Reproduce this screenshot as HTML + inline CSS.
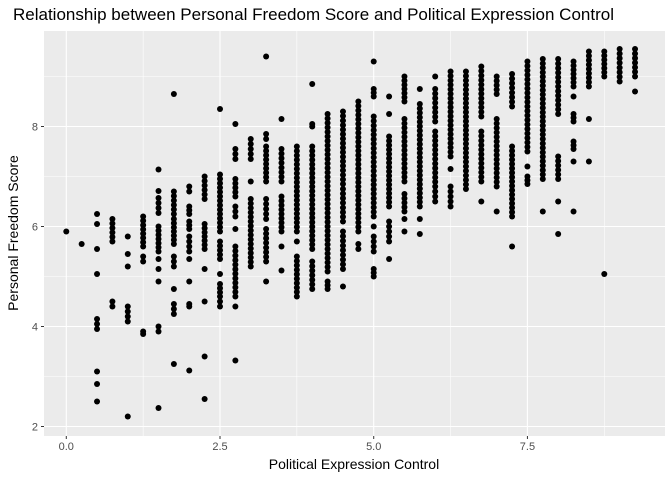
<!DOCTYPE html>
<html><head><meta charset="utf-8"><style>
body{margin:0;background:#fff;font-family:"Liberation Sans",sans-serif}
</style></head><body>
<svg id="chart" width="672" height="480" xmlns="http://www.w3.org/2000/svg">
<text x="13" y="20" font-size="17" fill="#000">Relationship between Personal Freedom Score and Political Expression Control</text>
<rect x="44" y="31" width="621" height="405" fill="#ebebeb"/>
<g id="grid"></g><g id="pts"></g><g id="axes"></g>
<text x="354" y="469" font-size="14" text-anchor="middle">Political Expression Control</text>
<text transform="translate(18,233) rotate(-90)" font-size="14" text-anchor="middle">Personal Freedom Score</text>
</svg>
<script>
const xTicks=[0,2.5,5,7.5];
const xTickLabels=["0.0","2.5","5.0","7.5"];
const yTicks=[2,4,6,8];
const yTickLabels=["2","4","6","8"];
const xVals=[0,0.25,0.5,0.75,1,1.25,1.5,1.75,2,2.25,2.5,2.75,3,3.25,3.5,3.75,4,4.25,4.5,4.75,5,5.25,5.5,5.75,6,6.25,6.5,6.75,7,7.25,7.5,7.75,8,8.25,8.5,8.75,9,9.25];
// each column: [high, low] runs of points (single points have high==low)
const yRuns=[
[[5.9,5.9]],
[[5.65,5.65]],
[[6.25,6.25],[6.05,6.05],[5.55,5.55],[5.05,5.05],[4.15,3.95],[3.1,3.1],[2.85,2.85],[2.5,2.5]],
[[6.15,5.7],[4.5,4.4]],
[[5.8,5.8],[5.45,5.45],[5.2,5.2],[4.4,4.1],[2.2,2.2]],
[[6.2,5.6],[5.4,5.3],[3.9,3.85]],
[[7.14,7.14],[6.71,6.71],[6.57,6.27],[6.0,5.5],[5.35,5.35],[5.15,5.15],[4.9,4.9],[4.0,3.9],[2.37,2.37]],
[[8.65,8.65],[6.7,6.25],[6.15,5.65],[5.4,5.2],[4.75,4.75],[4.45,4.25],[3.25,3.25]],
[[6.8,6.7],[6.4,6.25],[6.1,5.95],[5.8,5.5],[5.35,5.35],[4.9,4.9],[4.45,4.4],[3.12,3.12]],
[[7.0,6.55],[6.05,5.55],[5.15,5.15],[4.5,4.5],[3.4,3.4],[2.55,2.55]],
[[8.35,8.35],[7.04,5.9],[5.7,5.35],[5.05,5.05],[4.85,4.6],[4.5,4.4]],
[[8.05,8.05],[7.55,7.35],[6.95,6.6],[6.4,6.2],[5.95,5.95],[5.6,4.6],[4.4,4.4],[3.32,3.32]],
[[7.75,7.35],[6.9,6.9],[6.55,5.2]],
[[9.4,9.4],[7.85,7.75],[7.6,6.9],[6.55,6.15],[5.95,5.3],[4.9,4.9]],
[[8.15,8.15],[7.55,6.9],[6.6,5.9],[5.6,5.6],[5.12,5.12]],
[[7.6,5.9],[5.7,5.7],[5.4,4.6]],
[[8.85,8.85],[8.05,8.0],[7.6,5.55],[5.3,4.75]],
[[8.25,5.1],[4.9,4.75]],
[[8.3,6.85],[6.75,6.1],[5.9,5.15],[4.8,4.8]],
[[8.5,5.9],[5.65,5.55]],
[[9.3,9.3],[8.75,8.6],[8.2,6.2],[6.0,6.0],[5.8,5.5],[5.15,5.0]],
[[8.6,8.6],[8.25,8.25],[7.8,6.4],[6.1,5.7],[5.35,5.35]],
[[9.0,8.5],[8.15,6.9],[6.65,6.3],[6.15,6.15],[5.9,5.9]],
[[8.75,8.75],[8.45,6.4],[6.15,6.15],[5.85,5.85]],
[[9.0,9.0],[8.75,8.1],[7.9,6.8],[6.7,6.5]],
[[9.1,7.4],[7.15,7.15],[6.8,6.4]],
[[9.1,6.75]],
[[9.2,8.2],[7.9,6.9],[6.5,6.5]],
[[9.0,8.65],[8.15,6.8],[6.3,6.3]],
[[9.05,8.4],[7.6,6.2],[5.6,5.6]],
[[9.3,7.5],[7.2,7.2],[7.0,6.85]],
[[9.35,6.95],[6.3,6.3]],
[[9.35,8.25],[7.4,6.95],[6.5,6.5],[5.85,5.85]],
[[9.3,8.8],[8.6,8.6],[8.25,8.1],[7.7,7.55],[7.3,7.3],[6.3,6.3]],
[[9.5,8.8],[8.15,8.15],[7.3,7.3]],
[[9.5,9.0],[5.05,5.05]],
[[9.55,8.9]],
[[9.55,9.0],[8.7,8.7]]
];
const NS="http://www.w3.org/2000/svg";
const L=44,R=665,T=31,B=436;
const xMin=-0.3625,xMax=9.7375,yMin=1.81,yMax=9.91;
function sx(v){return L+(v-xMin)/(xMax-xMin)*(R-L);}
function sy(v){return B-(v-yMin)/(yMax-yMin)*(B-T);}
function mk(tag,attrs,parent){const e=document.createElementNS(NS,tag);for(const k in attrs)e.setAttribute(k,attrs[k]);parent.appendChild(e);return e;}
const grid=document.getElementById('grid'),pts=document.getElementById('pts'),axes=document.getElementById('axes');
for(let i=0;i<xTicks.length;i++){
 const m=xTicks[i]+1.25;
 if(sx(m)<R){const g=mk('line',{x1:sx(m),x2:sx(m),y1:T,y2:B,stroke:'#fff','stroke-width':0.55},grid);
 
 }
}
for(let i=0;i<yTicks.length;i++){
 const m=yTicks[i]+1;
 const g=mk('line',{x1:L,x2:R,y1:sy(m),y2:sy(m),stroke:'#fff','stroke-width':0.55},grid);
 
 
}
xTicks.forEach((t,i)=>{
 const g=mk('line',{x1:sx(t),x2:sx(t),y1:T,y2:B,stroke:'#fff','stroke-width':1.1},grid);
 
 
 const k=mk('line',{x1:sx(t),x2:sx(t),y1:B,y2:B+3,stroke:'#333','stroke-width':1},axes);
 
 
 const tx=mk('text',{x:sx(t),y:B+14,'font-size':11,fill:'#4d4d4d','text-anchor':'middle'},axes);
 tx.textContent=xTickLabels[i];
 
 
});
yTicks.forEach((t,i)=>{
 const g=mk('line',{x1:L,x2:R,y1:sy(t),y2:sy(t),stroke:'#fff','stroke-width':1.1},grid);
 
 
 const k=mk('line',{x1:L-3,x2:L,y1:sy(t),y2:sy(t),stroke:'#333','stroke-width':1},axes);
 
 
 const tx=mk('text',{x:L-6,y:sy(t)+4,'font-size':11,fill:'#4d4d4d','text-anchor':'end'},axes);
 tx.textContent=yTickLabels[i];
 
 
});
xVals.forEach((x,ci)=>{
 yRuns[ci].forEach(run=>{
  const hi=run[0],lo=run[1];
  const n=Math.max(1,Math.round((hi-lo)/0.09)+1);
  for(let j=0;j<n;j++){
   const y=n===1?hi:hi-(hi-lo)*j/(n-1);
   const c=mk('circle',{cx:sx(x),cy:sy(y),r:3.0,fill:'#000'},pts);
   
   
  }
 });
});
</script>
</body></html>
